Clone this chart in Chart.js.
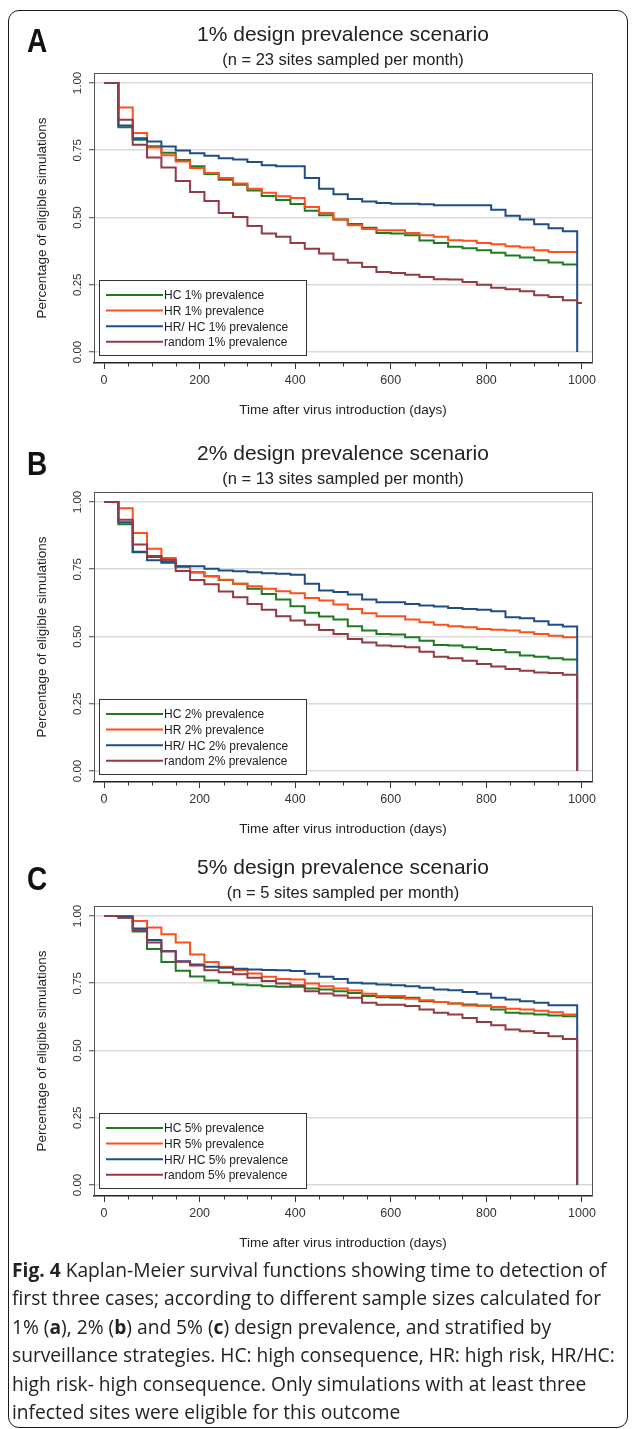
<!DOCTYPE html>
<html>
<head>
<meta charset="utf-8">
<script src="https://cdn.jsdelivr.net/npm/chart.js@4.4.1/dist/chart.umd.min.js"></script>
<style>
  html, body { margin: 0; padding: 0; background: #fff; }
  body { width: 632px; height: 1429px; position: relative; overflow: hidden; font-family: "Liberation Sans", Arial, sans-serif; color: #222; }
  #border { position: absolute; left: 8px; top: 10px; width: 620px; height: 1418px; border: 1.5px solid #1a1a1a; border-radius: 11px; box-sizing: border-box; }
  .box { position: absolute; left: 0; width: 676px; height: 412px; }
  .letter { position: absolute; left: 27px; font-weight: bold; font-size: 33px; line-height: 33px; transform: scaleX(0.85); transform-origin: left top; color: #111; }
  #caption { position: absolute; left: 12px; top: 1256px; font-family: "Open Sans", sans-serif; font-size: 19.2px; line-height: 28.4px; color: #222; white-space: nowrap; }
  #caption b { font-weight: 700; }
</style>
</head>
<body>
<div id="border"></div>

<div class="box" style="top:14px"><canvas id="chartA"></canvas></div>
<div class="box" style="top:433px"><canvas id="chartB"></canvas></div>
<div class="box" style="top:847px"><canvas id="chartC"></canvas></div>

<div class="letter" style="top:24px">A</div>
<div class="letter" style="top:447px">B</div>
<div class="letter" style="top:862px">C</div>

<div id="caption">
  <div><b>Fig. 4</b> Kaplan-Meier survival functions showing time to detection of</div>
  <div>first three cases; according to different sample sizes calculated for</div>
  <div>1% (<b>a</b>), 2% (<b>b</b>) and 5% (<b>c</b>) design prevalence, and stratified by</div>
  <div>surveillance strategies. HC: high consequence, HR: high risk, HR/HC:</div>
  <div>high risk- high consequence. Only simulations with at least three</div>
  <div>infected sites were eligible for this outcome</div>
</div>

<script>
// dias de seguimiento (pasos mensuales)
const days = [0, 30, 60, 90, 120, 150, 180, 210, 240, 270, 300, 330, 360, 390, 420, 450, 480, 510, 540, 570, 600, 630, 660, 690, 720, 750, 780, 810, 840, 870, 900, 930, 960, 990, 1000];

// panel A: 1% prevalence
const hcA   = [1.000, 0.835, 0.789, 0.765, 0.741, 0.714, 0.690, 0.662, 0.640, 0.622, 0.600, 0.580, 0.565, 0.550, 0.525, 0.508, 0.492, 0.476, 0.462, 0.442, 0.440, 0.434, 0.414, 0.405, 0.391, 0.386, 0.378, 0.369, 0.359, 0.351, 0.341, 0.333, 0.325, 0.325, null];
const hrA   = [1.000, 0.909, 0.814, 0.760, 0.731, 0.708, 0.684, 0.665, 0.647, 0.626, 0.607, 0.592, 0.579, 0.572, 0.539, 0.517, 0.492, 0.471, 0.457, 0.452, 0.452, 0.442, 0.434, 0.428, 0.415, 0.413, 0.405, 0.400, 0.393, 0.388, 0.378, 0.372, 0.372, 0.372, null];
const hrhcA = [1.000, 0.842, 0.794, 0.782, 0.764, 0.749, 0.739, 0.729, 0.720, 0.715, 0.706, 0.694, 0.690, 0.690, 0.647, 0.607, 0.586, 0.569, 0.559, 0.554, 0.551, 0.551, 0.549, 0.545, 0.545, 0.545, 0.545, 0.529, 0.506, 0.492, 0.475, 0.460, 0.449, 0.000, null];
const randA = [1.000, 0.863, 0.770, 0.723, 0.686, 0.636, 0.595, 0.561, 0.517, 0.502, 0.468, 0.440, 0.428, 0.405, 0.384, 0.366, 0.343, 0.332, 0.316, 0.297, 0.294, 0.287, 0.279, 0.270, 0.269, 0.260, 0.250, 0.239, 0.233, 0.226, 0.211, 0.204, 0.192, 0.182, 0.182];

// panel B: 2% prevalence
const hcB   = [1.000, 0.917, 0.813, 0.795, 0.780, 0.759, 0.738, 0.724, 0.710, 0.696, 0.677, 0.658, 0.637, 0.612, 0.588, 0.574, 0.563, 0.538, 0.522, 0.509, 0.507, 0.497, 0.484, 0.468, 0.466, 0.460, 0.453, 0.450, 0.441, 0.429, 0.425, 0.419, 0.414, 0.414, null];
const hrB   = [1.000, 0.977, 0.885, 0.826, 0.792, 0.760, 0.740, 0.724, 0.711, 0.696, 0.687, 0.677, 0.668, 0.661, 0.643, 0.634, 0.619, 0.602, 0.586, 0.575, 0.575, 0.563, 0.553, 0.544, 0.538, 0.534, 0.528, 0.525, 0.522, 0.516, 0.509, 0.503, 0.497, 0.497, null];
const hrhcB = [1.000, 0.925, 0.815, 0.783, 0.774, 0.761, 0.761, 0.752, 0.745, 0.742, 0.739, 0.735, 0.733, 0.729, 0.696, 0.671, 0.665, 0.656, 0.637, 0.627, 0.627, 0.621, 0.615, 0.611, 0.606, 0.602, 0.599, 0.594, 0.571, 0.568, 0.557, 0.544, 0.537, 0.000, null];
const randB = [1.000, 0.934, 0.842, 0.799, 0.785, 0.743, 0.710, 0.694, 0.667, 0.646, 0.621, 0.599, 0.575, 0.559, 0.544, 0.524, 0.509, 0.491, 0.478, 0.466, 0.464, 0.460, 0.443, 0.425, 0.419, 0.410, 0.398, 0.388, 0.379, 0.373, 0.366, 0.364, 0.358, 0.000, null];

// panel C: 5% prevalence
const hcC   = [1.000, 0.994, 0.942, 0.877, 0.829, 0.796, 0.775, 0.760, 0.752, 0.745, 0.742, 0.739, 0.737, 0.737, 0.730, 0.727, 0.720, 0.714, 0.702, 0.698, 0.696, 0.696, 0.683, 0.680, 0.675, 0.671, 0.667, 0.652, 0.640, 0.637, 0.634, 0.630, 0.627, 0.627, null];
const hrC   = [1.000, 1.000, 0.981, 0.957, 0.932, 0.901, 0.857, 0.829, 0.811, 0.799, 0.786, 0.774, 0.766, 0.764, 0.749, 0.739, 0.730, 0.723, 0.711, 0.702, 0.702, 0.692, 0.687, 0.680, 0.675, 0.667, 0.665, 0.662, 0.655, 0.652, 0.648, 0.642, 0.634, 0.634, null];
const hrhcC = [1.000, 0.998, 0.953, 0.911, 0.870, 0.832, 0.820, 0.811, 0.807, 0.804, 0.801, 0.799, 0.798, 0.795, 0.785, 0.774, 0.766, 0.752, 0.749, 0.745, 0.742, 0.739, 0.733, 0.727, 0.724, 0.717, 0.711, 0.696, 0.689, 0.683, 0.677, 0.668, 0.668, 0.000, null];
const randC = [1.000, 0.993, 0.948, 0.901, 0.868, 0.830, 0.816, 0.798, 0.791, 0.783, 0.770, 0.758, 0.749, 0.742, 0.720, 0.712, 0.704, 0.696, 0.677, 0.670, 0.670, 0.665, 0.652, 0.640, 0.634, 0.621, 0.606, 0.594, 0.578, 0.571, 0.565, 0.553, 0.543, 0.000, null];

const strategies = ["HC", "HR", "HR/ HC", "random"];
const prevalences = ["1%", "2%", "5%"];
const titles = ["1% design prevalence scenario", "2% design prevalence scenario", "5% design prevalence scenario"];
const subtitles = ["(n = 23 sites sampled per month)", "(n = 13 sites sampled per month)", "(n = 5 sites sampled per month)"];
const xTicks = [0, 200, 400, 600, 800, 1000];
const yTicks = [0, 0.25, 0.5, 0.75, 1];
const colors = ["#1f7a22", "#ff4f1c", "#1f4e86", "#933a45"];

const family = '"Liberation Sans", Arial, sans-serif';

// marco, ticks menores y leyenda estilo Stata
const stataPlugin = {
  id: "stata",
  beforeDatasetsDraw(chart) {
    const { ctx, chartArea: a } = chart;
    const x = chart.scales.x;
    ctx.save();
    ctx.strokeStyle = "#555";
    ctx.lineWidth = 1;
    ctx.beginPath();
    ctx.moveTo(a.left, a.top + 0.5);
    ctx.lineTo(a.right + 0.5, a.top + 0.5);
    ctx.lineTo(a.right + 0.5, a.bottom);
    ctx.stroke();
    ctx.strokeStyle = "#333";
    ctx.beginPath();
    for (let v = 50; v < 1000; v += 50) {
      if (v % 200 === 0) continue;
      const px = Math.round(x.getPixelForValue(v)) + 0.5;
      ctx.moveTo(px, a.bottom);
      ctx.lineTo(px, a.bottom + 3.5);
    }
    ctx.stroke();
    ctx.restore();
  },
  afterDatasetsDraw(chart) {
    const { ctx, chartArea: a } = chart;
    const boxL = a.left + 5, boxW = 207, boxH = 75;
    const boxT = a.bottom - 8 - boxH;
    ctx.save();
    ctx.fillStyle = "#fff";
    ctx.fillRect(boxL, boxT, boxW, boxH);
    ctx.strokeStyle = "#333";
    ctx.lineWidth = 1;
    ctx.strokeRect(boxL + 0.5, boxT + 0.5, boxW, boxH);
    ctx.font = "12px " + family;
    ctx.textBaseline = "middle";
    chart.data.datasets.forEach((ds, i) => {
      const y = boxT + 15 + i * 15.6;
      ctx.strokeStyle = ds.borderColor;
      ctx.lineWidth = 2;
      ctx.beginPath();
      ctx.moveTo(boxL + 7, y);
      ctx.lineTo(boxL + 64, y);
      ctx.stroke();
      ctx.fillStyle = "#222";
      ctx.fillText(ds.label, boxL + 65, y + 1);
    });
    ctx.restore();
  }
};

function makeChart(id, idx, series) {
  const ctx = document.getElementById(id).getContext("2d");
  new Chart(ctx, {
    type: "line",
    data: {
      datasets: series.map((vals, k) => ({
        label: `${strategies[k]} ${prevalences[idx]} prevalence`,
        data: days.map((d, i) => ({ x: d, y: vals[i] })).filter(p => p.y !== null),
        borderColor: colors[k],
        borderWidth: 2,
        pointRadius: 0,
        stepped: true,
        fill: false,
        order: 4 - k,
      })),
    },
    options: {
      responsive: true,
      maintainAspectRatio: false,
      animation: false,
      events: [],
      layout: { padding: { left: 10, right: 0, top: 0, bottom: 0 } },
      plugins: {
        legend: { display: false },
        tooltip: { enabled: false },
        title: {
          display: true, text: titles[idx], color: "#222",
          font: { family, size: 21, weight: "normal" },
          padding: { top: 8.4, bottom: 0 },
        },
        subtitle: {
          display: true, text: subtitles[idx], color: "#222",
          font: { family, size: 16.5 },
          padding: { top: 2.5, bottom: 3.1 },
        },
      },
      scales: {
        x: {
          type: "linear", min: -21, max: 1021,
          afterBuildTicks: s => { s.ticks = xTicks.map(v => ({ value: v })); },
          afterFit: s => { s.height = 63; },
          ticks: { autoSkip: false, maxRotation: 0, padding: 3.8, color: "#333", font: { family, size: 12.5 }, callback: v => String(v) },
          grid: { drawOnChartArea: false, tickLength: 6, tickColor: "#333", tickWidth: 1 },
          border: { color: "#222", width: 1.5 },
          title: { display: true, text: "Time after virus introduction (days)", color: "#222", font: { family, size: 13.5 }, padding: { top: 0, bottom: 7.9 } },
        },
        y: {
          min: -0.041, max: 1.037,
          afterBuildTicks: s => { s.ticks = yTicks.map(v => ({ value: v })); },
          afterFit: s => { s.width = 84; },
          ticks: { autoSkip: false, minRotation: 90, maxRotation: 90, crossAlign: "center", padding: 0, color: "#333", font: { family, size: 11.5 }, callback: v => Number(v).toFixed(2) },
          grid: { color: "#d9d9d9", lineWidth: 1.5, tickLength: 5, tickColor: "#444", tickWidth: 1 },
          border: { color: "#555", width: 1 },
          title: { display: true, text: "Percentage of eligible simulations", color: "#222", font: { family, size: 13.5 }, padding: { top: 23.9, bottom: 0 } },
        },
        // eje derecho vacio: centra los titulos sobre el area del grafico
        yR: {
          position: "right",
          afterFit: s => { s.width = 84; },
          ticks: { display: false },
          grid: { display: false },
          border: { display: false },
        },
      },
    },
    plugins: [stataPlugin],
  });
}

makeChart("chartA", 0, [hcA, hrA, hrhcA, randA]);
makeChart("chartB", 1, [hcB, hrB, hrhcB, randB]);
makeChart("chartC", 2, [hcC, hrC, hrhcC, randC]);
</script>
</body>
</html>
